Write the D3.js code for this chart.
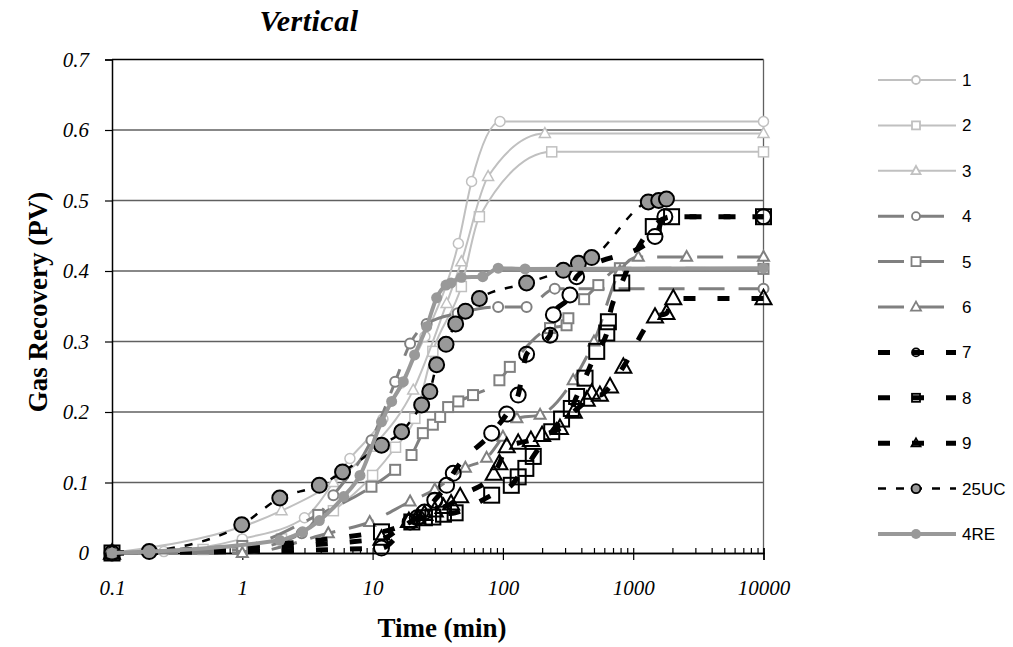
<!DOCTYPE html>
<html>
<head>
<meta charset="utf-8">
<script src="https://cdnjs.cloudflare.com/ajax/libs/d3/7.8.5/d3.min.js"></script>
<style>
body { margin: 0; background: #fff; }
</style>
</head>
<body>
<script>
// values: [time (min), gas recovery (PV)]
var s1 = [[0.1,0],[0.25,0.002],[1,0.02],[3,0.05],[6.7,0.134],[12,0.19],[16.5,0.241],[25.2,0.307],[45.5,0.439],[57.5,0.527],[95,0.612],[10000,0.612]];
var s2 = [[0.1,0],[0.5,0.005],[2,0.02],[5,0.06],[10,0.11],[15,0.15],[21.1,0.191],[29,0.286],[48,0.378],[66,0.477],[237,0.569],[10000,0.569]];
var s3 = [[0.1,0],[2,0.06],[5,0.1],[10,0.15],[20.5,0.231],[37,0.354],[48,0.413],[77,0.534],[210,0.595],[10000,0.595]];
var s4 = [[0.1,0],[1,0.005],[2.86,0.028],[5,0.082],[9.8,0.16],[14.9,0.243],[19.4,0.297],[26,0.325],[45,0.34],[92,0.349],[152,0.349],[250,0.375],[10000,0.375]];
var s5 = [[0.1,0],[1,0.01],[3.83,0.054],[9.8,0.094],[14.9,0.118],[19.9,0.139],[24.3,0.17],[29,0.182],[33,0.193],[38,0.207],[45.5,0.215],[59,0.224],[94,0.245],[113,0.264],[230,0.319],[308,0.323],[318,0.333],[420,0.36],[540,0.38],[790,0.404],[10000,0.403]];
var s6 = [[0.1,0],[1,0],[4.57,0.028],[9.5,0.044],[19.4,0.073],[30,0.09],[51.5,0.121],[75,0.135],[100,0.165],[128,0.191],[193,0.196],[346,0.245],[500,0.3],[792,0.4],[1094,0.42],[2570,0.42],[10000,0.42]];
var s7 = [[0.1,0],[11.7,0.007],[19.4,0.044],[22,0.05],[25,0.058],[30,0.075],[37,0.096],[41.6,0.113],[82,0.17],[107,0.197],[131,0.224],[152,0.282],[230,0.309],[244,0.338],[327,0.366],[368,0.392],[1470,0.449],[1750,0.477],[10000,0.477]];
var s8 = [[0.1,0],[11.7,0.03],[20,0.044],[25,0.05],[29,0.051],[35,0.055],[43,0.057],[82,0.082],[116,0.096],[131,0.108],[150,0.12],[171,0.137],[237,0.172],[282,0.19],[335,0.205],[368,0.222],[427,0.248],[525,0.286],[627,0.312],[645,0.328],[817,0.383],[1426,0.463],[1970,0.477],[10000,0.477]];
var s9 = [[0.1,0],[11.7,0.02],[19,0.045],[22,0.05],[25,0.055],[30,0.06],[35,0.065],[40,0.07],[47,0.08],[85,0.112],[94,0.127],[107,0.151],[131,0.156],[164,0.16],[200,0.167],[274,0.177],[350,0.2],[440,0.217],[480,0.227],[555,0.224],[664,0.236],[840,0.264],[1470,0.335],[1800,0.34],[2030,0.361],[10000,0.361]];
var s25uc = [[0.193,0.002],[0.99,0.04],[1.94,0.078],[3.9,0.096],[5.88,0.115],[11.7,0.153],[16.7,0.172],[23.8,0.21],[27.5,0.229],[31,0.267],[36.6,0.296],[43.4,0.325],[51.6,0.343],[66,0.361],[152,0.383],[291,0.401],[380,0.411],[480,0.419],[1306,0.498],[1570,0.5],[1800,0.502]];
var s4re = [[0.1,0],[1.94,0.018],[2.9,0.03],[3.9,0.046],[6,0.08],[8,0.11],[11.7,0.186],[14,0.215],[17.2,0.243],[21,0.281],[26,0.321],[31,0.362],[36.6,0.38],[40,0.383],[48,0.391],[70,0.392],[92,0.404],[148,0.403],[10000,0.404]];

var seriesNames = ["1", "2", "3", "4", "5", "6", "7", "8", "9", "25UC", "4RE"];
var seriesData = [s1, s2, s3, s4, s5, s6, s7, s8, s9, s25uc, s4re];
var xTicks = [0.1, 1, 10, 100, 1000, 10000];
var xTickLabels = ["0.1", "1", "10", "100", "1000", "10000"];
var yTicks = [0, 0.1, 0.2, 0.3, 0.4, 0.5, 0.6, 0.7];
var yTickLabels = ["0", "0.1", "0.2", "0.3", "0.4", "0.5", "0.6", "0.7"];

var light = "#c0c0c0", mid = "#808080", gray = "#999999";
var styles = [
  {line: light, lw: 2, dash: null, shape: "circle", ms: 10, mc: light, mf: "#fff", msw: 1.5, lms: 8},
  {line: light, lw: 2, dash: null, shape: "square", ms: 10, mc: light, mf: "#fff", msw: 1.5, lms: 8},
  {line: light, lw: 2, dash: null, shape: "triangle", ms: 11, mc: light, mf: "#fff", msw: 1.5, lms: 9},
  {line: mid, lw: 3, dash: "26,14", shape: "circle", ms: 10, mc: mid, mf: "#fff", msw: 2, lms: 8},
  {line: mid, lw: 3, dash: "26,14", shape: "square", ms: 10, mc: mid, mf: "#fff", msw: 2, lms: 9},
  {line: mid, lw: 3, dash: "26,14", shape: "triangle", ms: 11, mc: mid, mf: "#fff", msw: 2, lms: 10},
  {line: "#000", lw: 5, dash: "12,22", shape: "circle", ms: 15, mc: "#000", mf: "none", msw: 2, lms: 8},
  {line: "#000", lw: 5, dash: "12,22", shape: "square", ms: 15, mc: "#000", mf: "none", msw: 2, lms: 8},
  {line: "#000", lw: 5, dash: "12,22", shape: "triangle", ms: 16, mc: "#000", mf: "none", msw: 2, lms: 9},
  {line: "#000", lw: 2.5, dash: "8,10", shape: "circle", ms: 15, mc: "#000", mf: gray, msw: 2, lms: 9},
  {line: gray, lw: 4, dash: null, shape: "dot", ms: 11, mc: gray, mf: gray, msw: 0, lms: 10}
];

var w = 1013, h = 647;
var plotL = 112, plotR = 763.5, plotT = 59.5, plotB = 553;

var svg = d3.select("body").append("svg")
  .attr("width", w)
  .attr("height", h);

var xScale = d3.scaleLog().domain([0.1, 10000]).range([plotL, plotR]);
var yScale = d3.scaleLinear().domain([0, 0.7]).range([plotB, plotT]);

// gridlines
svg.append("g").selectAll("line")
  .data(yTicks.slice(1))
  .enter().append("line")
  .attr("x1", plotL).attr("x2", plotR)
  .attr("y1", function(d) { return yScale(d); })
  .attr("y2", function(d) { return yScale(d); })
  .attr("stroke", function(d) { return d === 0.7 ? "#000" : "#606060"; })
  .attr("stroke-width", 1.3);

svg.append("line")
  .attr("x1", plotR).attr("x2", plotR)
  .attr("y1", yScale(0.7)).attr("y2", yScale(0))
  .attr("stroke", "#606060").attr("stroke-width", 1.3);

// minor ticks for the log axis
var minors = [];
for (var e = -1; e < 4; e++) {
  for (var k = 2; k < 10; k++) minors.push(k * Math.pow(10, e));
}

var xAxis = d3.axisBottom(xScale).tickValues(xTicks).tickSize(7).tickPadding(20)
  .tickFormat(function(d, i) { return xTickLabels[i]; });
var xInner = d3.axisBottom(xScale).tickValues(xTicks.concat(minors)).tickSize(-5).tickFormat("");
var yAxis = d3.axisLeft(yScale).tickValues(yTicks).tickSize(7).tickPadding(16)
  .tickFormat(function(d, i) { return yTickLabels[i]; });

svg.append("g").attr("class", "x inner")
  .attr("transform", "translate(0," + plotB + ")")
  .call(xInner);
svg.append("g").attr("class", "x axis")
  .attr("transform", "translate(0," + plotB + ")")
  .call(xAxis);
svg.append("g").attr("class", "y axis")
  .attr("transform", "translate(" + plotL + ",0)")
  .call(yAxis);

svg.selectAll(".axis path, .inner path").attr("stroke", "#000").attr("stroke-width", 1.5);
svg.selectAll(".axis line, .inner line").attr("stroke", "#000").attr("stroke-width", 1.2);
svg.selectAll(".axis text")
  .attr("font-family", "'Liberation Serif', serif")
  .attr("font-style", "italic")
  .attr("font-size", 21)
  .attr("fill", "#000");

function marker(g, shape, cx, cy, s, st) {
  if (shape === "circle" || shape === "dot") {
    g.append("circle").attr("cx", cx).attr("cy", cy).attr("r", s / 2)
      .attr("fill", st.mf).attr("stroke", st.msw ? st.mc : "none").attr("stroke-width", st.msw);
  } else if (shape === "square") {
    g.append("rect").attr("x", cx - s / 2).attr("y", cy - s / 2).attr("width", s).attr("height", s)
      .attr("fill", st.mf).attr("stroke", st.mc).attr("stroke-width", st.msw);
  } else {
    var hh = s * 0.9;
    g.append("path")
      .attr("d", "M" + cx + "," + (cy - hh * 0.6) + "L" + (cx + s / 2) + "," + (cy + hh * 0.4) + "L" + (cx - s / 2) + "," + (cy + hh * 0.4) + "Z")
      .attr("fill", st.mf).attr("stroke", st.mc).attr("stroke-width", st.msw);
  }
}

var line = d3.line()
  .x(function(d) { return xScale(d[0]); })
  .y(function(d) { return yScale(d[1]); })
  .curve(d3.curveMonotoneX);

seriesData.forEach(function(data, i) {
  var st = styles[i];
  var g = svg.append("g").attr("class", "series s" + i);
  g.append("path")
    .attr("d", line(data))
    .attr("fill", "none")
    .attr("stroke", st.line)
    .attr("stroke-width", st.lw)
    .attr("stroke-dasharray", st.dash);
  data.forEach(function(d) {
    marker(g, st.shape, xScale(d[0]), yScale(d[1]), st.ms, st);
  });
});

// legend
var legend = svg.append("g").attr("class", "legend");
seriesNames.forEach(function(name, i) {
  var st = styles[i];
  var ly = 80 + i * 45.4;
  legend.append("line")
    .attr("x1", 878).attr("x2", 956)
    .attr("y1", ly).attr("y2", ly)
    .attr("stroke", st.line)
    .attr("stroke-width", i >= 6 && i <= 8 ? 5 : st.lw)
    .attr("stroke-dasharray", st.dash);
  marker(legend, st.shape, 916, ly, st.lms, {mf: st.mf, mc: st.mc, msw: i === 10 ? 0 : 1.8});
  legend.append("text")
    .attr("x", 962).attr("y", ly + 6)
    .attr("font-family", "'Liberation Sans', Arial, sans-serif")
    .attr("font-size", 17)
    .text(name);
});

// titles
svg.append("text")
  .attr("x", 309).attr("y", 31)
  .attr("text-anchor", "middle")
  .attr("font-family", "'Liberation Serif', serif")
  .attr("font-style", "italic").attr("font-weight", "bold")
  .attr("font-size", 30)
  .attr("letter-spacing", 0.5)
  .text("Vertical");

svg.append("text")
  .attr("transform", "translate(47,302) rotate(-90)")
  .attr("text-anchor", "middle")
  .attr("font-family", "'Liberation Serif', serif")
  .attr("font-weight", "bold")
  .attr("font-size", 27)
  .text("Gas Recovery (PV)");

svg.append("text")
  .attr("x", 442).attr("y", 637)
  .attr("text-anchor", "middle")
  .attr("font-family", "'Liberation Serif', serif")
  .attr("font-weight", "bold")
  .attr("font-size", 27)
  .text("Time (min)");
</script>
</body>
</html>
